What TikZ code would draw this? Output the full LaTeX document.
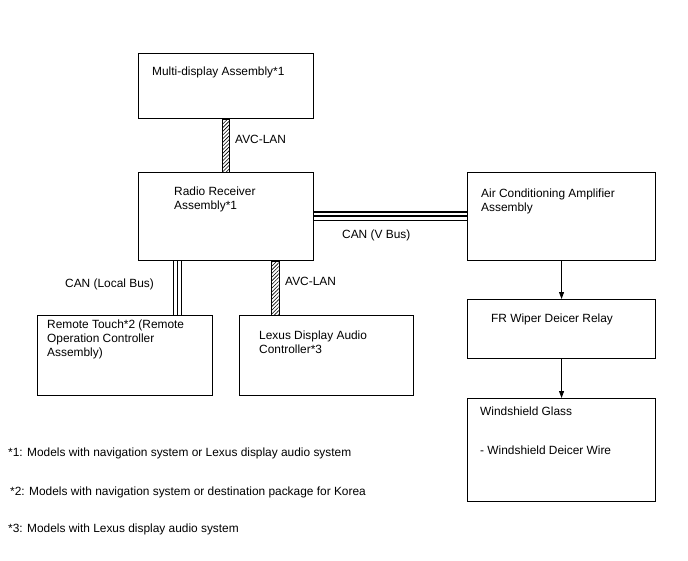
\documentclass[tikz,border=0pt]{standalone}
\usepackage{fontspec}
\setmainfont{Liberation Sans}
\usetikzlibrary{arrows.meta,patterns.meta}

\tikzset{
  unit/.style={draw, line width=1.1pt, anchor=north west, inner sep=0pt},
  txt/.style={anchor=base west, inner sep=0pt, align=left, font=\fontsize{11.9}{14}\selectfont},
  avclan/.style={line width=0.8pt, pattern={Lines[angle=45,distance=2.6pt,line width=0.6pt]}},
  canbus/.style={line width=1.2pt, double, double distance=7pt},
}

\begin{document}
\begin{tikzpicture}[x=1pt, y=-1pt, >={Triangle[length=7pt,width=5pt]}]
            \useasboundingbox (0,0) rectangle (688,560);
            % units
            \node[unit, minimum width=175pt, minimum height=65pt] (multi) at (138,53) {};
            \node[unit, minimum width=175pt, minimum height=88pt] (radio) at (138,172) {};
            \node[unit, minimum width=188pt, minimum height=88pt] (aircon) at (467,172) {};
            \node[unit, minimum width=188pt, minimum height=59pt] (relay) at (467,299) {};
            \node[unit, minimum width=188pt, minimum height=103pt] (glass) at (467,398) {};
            \node[unit, minimum width=175pt, minimum height=80pt] (remote) at (37,315) {};
            \node[unit, minimum width=174pt, minimum height=80pt] (lda) at (239,315) {};
            % unit names (multi-line text sits on its last baseline)
            \node[txt] (multitxt) at (152,75) {Multi-display Assembly*1};
            \node[txt] (radiotxt) at (174,209) {Radio Receiver\\Assembly*1};
            \node[txt] (aircontxt) at (481,211) {Air Conditioning Amplifier\\Assembly};
            \node[txt] (relaytxt) at (491,322) {FR Wiper Deicer Relay};
            \node[txt] (glasstxt) at (480,415) {Windshield Glass};
            \node[txt] (wiretxt) at (480,454) {- Windshield Deicer Wire};
            \node[txt] (remotetxt) at (47,356) {Remote Touch*2 (Remote\\Operation Controller\\Assembly)};
            \node[txt] (ldatxt) at (259,353) {Lexus Display Audio\\Controller*3};
            % buses
            \filldraw[avclan] ([xshift=-3.7pt]multi.south) rectangle ([xshift=3.7pt]radio.north);
            \filldraw[avclan] ([xshift=133pt]radio.south west) rectangle ([xshift=141pt]radio.south west |- lda.north);
            \draw[canbus] ([yshift=-44pt]radio.north east) -- ([yshift=-44pt]radio.north east -| aircon.west);
            \draw[line width=1.2pt] ([yshift=-44pt]radio.north east) -- ([yshift=-44pt]radio.north east -| aircon.west);
            \draw[canbus] ([xshift=39.5pt]radio.south west) -- ([xshift=39.5pt]radio.south west |- remote.north);
            \draw[line width=1.2pt] ([xshift=39.5pt]radio.south west) -- ([xshift=39.5pt]radio.south west |- remote.north);
            \draw[->, line width=0.9pt] (aircon) -- (relay);
            \draw[->, line width=0.9pt] (relay) -- (glass);
            % bus names
            \node[txt] (avc1) at (235,143) {AVC-LAN};
            \node[txt] (vbus) at (342,238) {CAN (V Bus)};
            \node[txt] (lbus) at (65,287) {CAN (Local Bus)};
            \node[txt] (avc2) at (285,285) {AVC-LAN};
            % notes
            \node[txt] (note1) at (8,456) {*1: Models with navigation system or Lexus display audio system};
            \node[txt] (note2) at (10,495) {*2: Models with navigation system or destination package for Korea};
            \node[txt] (note3) at (8,532) {*3: Models with Lexus display audio system};
        \end{tikzpicture}
\end{document}
